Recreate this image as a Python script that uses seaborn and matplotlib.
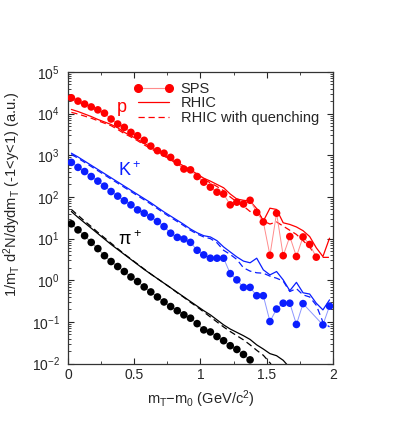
import numpy as np
import matplotlib
matplotlib.use('Agg')
import matplotlib.pyplot as plt
import seaborn as sns
from matplotlib.lines import Line2D
from matplotlib.ticker import LogLocator, MultipleLocator, NullFormatter, FormatStrFormatter

# transverse mass bins (GeV/c^2)
mt = [0.025, 0.075, 0.125, 0.175, 0.225, 0.275, 0.325, 0.375, 0.425, 0.475,
      0.525, 0.575, 0.625, 0.675, 0.725, 0.775, 0.825, 0.875, 0.925, 0.975,
      1.025, 1.075, 1.125, 1.175, 1.225, 1.275, 1.325, 1.375, 1.425, 1.475,
      1.525, 1.575, 1.625, 1.675, 1.725, 1.775, 1.825, 1.875, 1.925, 1.975]
nan = np.nan

# values given as log10 of the yield
p_sps = [4.38, 4.30, 4.23, 4.16, 4.09, 4.01, 3.87, 3.75, 3.67, 3.55,
         3.47, 3.36, 3.22, 3.11, 3.05, 2.95, 2.83, 2.67, 2.65, 2.49,
         2.355, 2.235, 2.115, 2.07, 1.81, 1.875, 1.83, 1.92, 1.63, 1.40,
         0.60, 1.61, 0.59, 1.05, 0.57, 1.04, 0.86, 0.555, nan, nan]
p_rhic = [4.10, 4.05, 3.99, 3.93, 3.86, 3.80, 3.74, 3.66, 3.55, 3.47,
          3.38, 3.29, 3.19, 3.10, 3.01, 2.92, 2.83, 2.74, 2.65, 2.55,
          2.45, 2.38, 2.30, 2.22, 2.07, 1.95, 1.92, 1.90, 1.72, 1.42,
          1.73, 1.70, 1.38, 1.34, 1.28, 1.19, 1.05, 0.78, 0.57, 1.01]
p_quench = [4.03, 3.99, 3.94, 3.89, 3.83, 3.77, 3.71, 3.62, 3.52, 3.44,
            3.35, 3.25, 3.16, 3.07, 2.98, 2.89, 2.79, 2.70, 2.61, 2.52,
            2.42, 2.34, 2.25, 2.15, 2.00, 1.88, 1.78, 1.65, 1.70, 1.42,
            1.35, 1.40, 1.30, 1.20, 1.10, 0.95, 0.80, 0.57, 0.55, 0.55]

k_sps = [2.83, 2.71, 2.61, 2.49, 2.38, 2.26, 2.13, 2.02, 1.91, 1.81,
         1.69, 1.61, 1.52, 1.41, 1.29, 1.13, 1.03, 0.99, 0.91, 0.72,
         0.61, 0.53, 0.53, 0.53, 0.16, 0.01, -0.17, -0.17, -0.37, -0.37,
         -0.99, -0.69, -0.55, -0.55, -1.06, -0.56, nan, nan, -1.07, -0.62]
k_rhic = [3.05, 2.96, 2.86, 2.76, 2.66, 2.56, 2.46, 2.36, 2.26, 2.16,
          2.06, 1.96, 1.86, 1.75, 1.64, 1.54, 1.44, 1.34, 1.23, 1.14,
          1.07, 1.04, 0.95, 0.80, 0.68, 0.56, 0.46, 0.42, 0.53, 0.25,
          0.13, 0.21, 0.01, -0.25, -0.05, -0.30, -0.33, -0.55, -0.71, -0.47]
k_quench = [3.02, 2.93, 2.83, 2.73, 2.63, 2.53, 2.43, 2.33, 2.23, 2.13,
            2.03, 1.93, 1.83, 1.72, 1.61, 1.51, 1.41, 1.31, 1.20, 1.11,
            1.04, 1.00, 0.90, 0.72, 0.62, 0.50, 0.30, 0.22, 0.18, 0.17,
            0.10, 0.05, -0.02, -0.27, -0.20, -0.35, -0.40, -0.60, -1.00, -1.12]

pi_sps = [1.355, 1.21, 1.07, 0.91, 0.76, 0.59, 0.45, 0.33, 0.21, 0.08,
          -0.03, -0.16, -0.28, -0.40, -0.52, -0.63, -0.73, -0.83, -0.91, -1.04,
          -1.19, -1.24, -1.35, -1.45, -1.57, -1.66, -1.78, -1.91, nan, nan,
          nan, nan, nan, nan, nan, nan, nan, nan, nan, nan]
pi_rhic = [1.65, 1.51, 1.38, 1.25, 1.12, 0.99, 0.86, 0.74, 0.62, 0.50,
           0.38, 0.26, 0.15, 0.04, -0.07, -0.18, -0.29, -0.40, -0.51, -0.62,
           -0.73, -0.83, -0.95, -1.07, -1.17, -1.25, -1.33, -1.42, -1.55, -1.65,
           -1.76, -1.81, -1.92, -2.10, nan, nan, nan, nan, nan, nan]
pi_quench = [1.70, 1.56, 1.42, 1.29, 1.15, 1.02, 0.89, 0.76, 0.63, 0.51,
             0.39, 0.27, 0.15, 0.04, -0.07, -0.18, -0.30, -0.41, -0.53, -0.64,
             -0.76, -0.88, -1.00, -1.12, -1.23, -1.33, -1.43, -1.55, -1.68, -1.80,
             -1.98, -2.20, nan, nan, nan, nan, nan, nan, nan, nan]

species = [
    # sps, rhic, quench, colour, light colour
    (p_sps, p_rhic, p_quench, '#ff0000', '#ff8c8c'),
    (k_sps, k_rhic, k_quench, '#0a1eff', '#8c96ff'),
    (pi_sps, pi_rhic, pi_quench, '#000000', '#9a9a9a'),
]


def decades(v):
    return 10.0 ** np.array(v, dtype=float)


sns.set_style('ticks')
plt.rcParams['font.family'] = ['Liberation Sans', 'DejaVu Sans']
plt.rcParams['mathtext.fontset'] = 'custom'
plt.rcParams['mathtext.rm'] = 'Liberation Sans'
plt.rcParams['mathtext.default'] = 'regular'

fig = plt.figure(figsize=(4.15, 4.36), dpi=100)
ax = fig.add_axes([0.164, 0.166, 0.638, 0.669])

dash = (0, (5, 3))
for sps, rhic, quench, col, light in species:
    sns.lineplot(x=mt, y=decades(rhic), color=col, lw=0.9, ax=ax, errorbar=None)
    sns.lineplot(x=mt, y=decades(quench), color=col, lw=0.9, linestyle=dash,
                 ax=ax, errorbar=None)
    sns.lineplot(x=mt, y=decades(sps), color=light, lw=0.7, ax=ax, errorbar=None)
    sns.scatterplot(x=mt, y=decades(sps), color=col, s=30, edgecolor='none',
                    linewidth=0, ax=ax, zorder=3)

ax.set_yscale('log')
ax.set_xlim(0, 2)
ax.set_ylim(1e-2, 1e5)

ax.xaxis.set_major_locator(MultipleLocator(0.5))
ax.xaxis.set_minor_locator(MultipleLocator(0.25))
ax.xaxis.set_major_formatter(FormatStrFormatter('%g'))
ax.yaxis.set_major_locator(LogLocator(base=10, numticks=10))
ax.yaxis.set_minor_locator(LogLocator(base=10, subs=np.arange(2, 10), numticks=20))
ax.yaxis.set_minor_formatter(NullFormatter())
ax.tick_params(which='both', direction='in', top=True, right=True, labelsize=10)
ax.tick_params(which='major', length=4, width=0.8)
ax.tick_params(which='minor', length=2, width=0.6)
ax.tick_params(axis='y', pad=6)
for s in ax.spines.values():
    s.set_linewidth(0.9)
    s.set_color('#333333')

ax.set_xlabel('m$_T$\u2212m$_0$ (GeV/c$^2$)', fontsize=10.5, labelpad=4)
ax.set_ylabel('1/m$_T$ d$^2$N/dydm$_T$ (-1<y<1) (a.u.)', fontsize=10.5)
ax.yaxis.set_label_coords(-0.17, 0.58)

ax.text(0.37, 1.12e4, 'p', color='#ff0000', fontsize=13)
ax.text(0.375, 3.2e2, 'K$^+$', color='#0a1eff', fontsize=13)
ax.text(0.375, 7.0, '$\\pi^+$', color='black', fontsize=13)

handles = [
    Line2D([], [], color='#ff8c8c', lw=0.8, marker='o', markersize=5.5,
           markerfacecolor='#ff0000', markeredgecolor='#ff0000'),
    Line2D([], [], color='#ff0000', lw=0.9),
    Line2D([], [], color='#ff0000', lw=0.9, linestyle=dash),
]
ax.legend(handles, ['SPS', 'RHIC', 'RHIC with quenching'], loc='upper left',
          bbox_to_anchor=(0.21, 1.0), frameon=False, numpoints=2, fontsize=10.5,
          handlelength=2.7, handletextpad=0.5, labelspacing=0.02,
          borderaxespad=0.3)

fig.savefig('out.png', dpi=100)
